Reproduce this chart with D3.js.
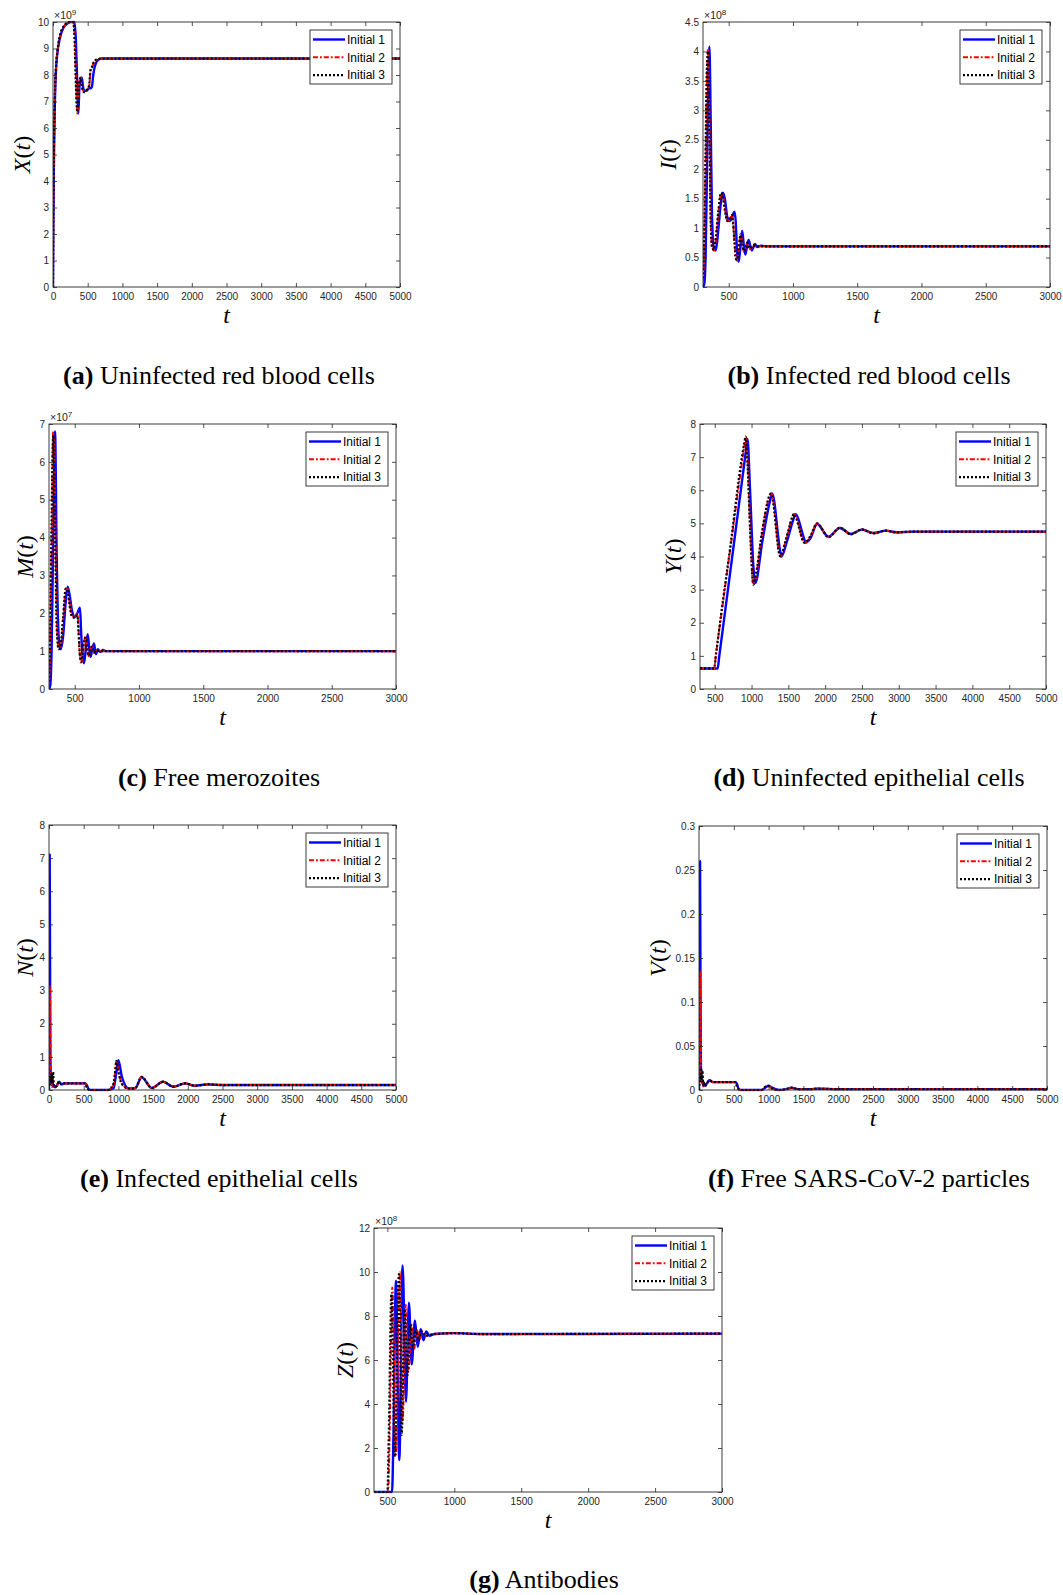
<!DOCTYPE html>
<html><head><meta charset="utf-8">
<script src="https://cdn.jsdelivr.net/npm/d3@7"></script>
<style>body{margin:0;background:#fff} svg{display:block}</style>
</head><body>
<svg id="fig" width="1063" height="1595"></svg>
<script>
// ---------------- DATA ----------------
const seriesNames = ["Initial 1", "Initial 2", "Initial 3"];

// (a) X(t) x 1e9
const tA  = [0,5,10,20,35,50,75,100,150,200,250,290,310,330,350,365,380,400,415,430,450,475,500,520,540,560,580,600,620,650,700,800,5000];
const xA1 = [0,2.2,4.0,6.0,7.7,8.45,9.05,9.4,9.78,9.93,10,10,10,9.3,7.6,6.55,7.5,7.85,7.9,7.6,7.4,7.4,7.45,7.5,7.5,7.55,8.0,8.3,8.45,8.57,8.62,8.62,8.62];
const xA2 = [0,2.5,4.2,6.2,7.8,8.5,9.1,9.45,9.8,9.95,10,10,9.6,8.0,6.55,7.2,7.75,7.9,7.65,7.45,7.35,7.4,7.5,7.55,8.1,8.25,8.4,8.5,8.57,8.6,8.62,8.62,8.62];
const xA3 = [0,2.7,4.4,6.4,7.9,8.55,9.15,9.5,9.82,9.96,10,10,9.4,7.6,6.6,7.3,7.8,7.9,7.6,7.4,7.35,7.4,7.5,7.6,8.2,8.3,8.45,8.52,8.58,8.6,8.62,8.62,8.62];

// (b) I(t) x 1e8
const tB  = [300,310,320,330,340,350,360,370,385,400,420,440,455,470,490,510,525,545,555,565,578,592,605,618,630,643,655,668,680,693,705,720,750,800,3000];
const iB1 = [0,0.05,0.5,1.8,3.4,4.08,2.8,1.2,0.65,0.62,1.0,1.45,1.6,1.5,1.18,1.12,1.18,1.28,1.1,0.6,0.43,0.7,0.95,0.7,0.55,0.7,0.8,0.7,0.62,0.68,0.73,0.68,0.70,0.69,0.69];
const iB2 = [0.1,0.7,2.0,3.5,4.05,2.9,1.2,0.7,0.62,0.8,1.25,1.58,1.55,1.35,1.12,1.15,1.23,0.8,0.5,0.45,0.62,0.9,0.75,0.6,0.63,0.76,0.7,0.64,0.68,0.72,0.7,0.69,0.69,0.69,0.69];
const iB3 = [0.15,0.9,2.3,3.7,4.0,2.6,1.1,0.68,0.63,0.85,1.3,1.6,1.52,1.3,1.12,1.16,1.22,0.75,0.48,0.46,0.65,0.88,0.73,0.61,0.64,0.75,0.69,0.65,0.68,0.71,0.7,0.69,0.69,0.69,0.69];

// (c) M(t) x 1e7
const tC  = [300,310,320,333,347,360,375,390,410,430,445,460,480,502,520,541,550,560,572,585,601,612,623,637,650,665,680,700,720,740,800,3000];
const mC1 = [0,0.1,1.0,4.0,6.8,3.5,1.4,1.05,1.4,2.3,2.7,2.5,2.05,1.9,2.0,2.15,1.5,0.9,0.68,1.0,1.45,1.1,0.85,1.05,1.2,0.92,1.05,0.98,1.03,1.0,1.0,1.0];
const mC2 = [0.1,1.2,3.5,6.8,5.0,2.0,1.1,1.1,1.8,2.6,2.65,2.3,1.95,1.9,2.0,0.9,0.7,0.8,1.2,1.4,1.0,0.85,1.05,1.15,0.95,1.02,1.0,1.0,1.0,1.0,1.0,1.0];
const mC3 = [0.2,1.8,4.5,6.7,4.2,1.6,1.05,1.15,1.9,2.65,2.6,2.2,1.9,1.88,1.95,0.85,0.72,0.85,1.25,1.35,0.95,0.88,1.07,1.12,0.96,1.02,1.0,1.0,1.0,1.0,1.0,1.0];

// (d) Y(t)
const tD  = [300,490,520,540,560,700,900,920,945,980,1025,1050,1150,1265,1280,1390,1405,1480,1580,1595,1720,1735,1800,1890,2045,2200,2350,2500,2655,2825,2970,3200,5000];
const yD1 = [0.62,0.62,0.62,0.62,0.96,3.35,6.78,7.13,7.55,6.0,3.7,3.2,4.5,5.8,5.9,4.15,4.0,4.45,5.2,5.28,4.5,4.42,4.55,4.98,4.6,4.86,4.68,4.81,4.71,4.78,4.73,4.75,4.75];
const yD2 = [0.62,0.62,1.1,1.43,1.76,4.04,7.3,7.6,7.0,5.0,3.15,3.3,4.8,5.9,5.85,4.02,4.05,4.6,5.28,5.25,4.42,4.42,4.6,5.0,4.58,4.87,4.67,4.82,4.7,4.78,4.73,4.75,4.75];
const yD3 = [0.62,0.62,1.1,1.45,1.8,4.1,7.4,7.62,6.8,4.8,3.15,3.35,4.85,5.9,5.8,4.0,4.05,4.62,5.28,5.22,4.42,4.43,4.62,5.0,4.58,4.87,4.67,4.82,4.7,4.78,4.73,4.75,4.75];

// (e) N(t)
const tE  = [0,5,10,15,20,30,40,50,60,70,85,110,145,180,220,300,520,545,570,600,850,930,975,1000,1050,1150,1240,1335,1480,1645,1790,1960,2100,2290,2500,5000];
const nE1 = [0,3.0,7.1,4.0,1.0,0.2,0.15,0.3,0.1,0.15,0.08,0.12,0.25,0.17,0.2,0.2,0.2,0.15,0.03,0,0,0.05,0.6,0.9,0.4,0.05,0.05,0.38,0.06,0.25,0.1,0.2,0.13,0.17,0.15,0.15];
const nE2 = [0,1.5,2.5,3.15,1.5,0.3,0.1,0.2,0.1,0.12,0.1,0.12,0.25,0.17,0.2,0.2,0.2,0.1,0.02,0,0,0.15,0.9,0.6,0.2,0.04,0.05,0.4,0.06,0.25,0.1,0.2,0.13,0.17,0.15,0.15];
const nE3 = [0,0.2,0.3,0.4,0.2,0.3,0.5,0.2,0.55,0.1,0.1,0.12,0.25,0.17,0.2,0.2,0.2,0.08,0.01,0,0,0.2,0.88,0.55,0.18,0.04,0.05,0.4,0.06,0.25,0.1,0.2,0.13,0.17,0.15,0.15];

// (f) V(t)
const tF  = [0,5,10,15,20,25,30,40,50,60,70,85,110,150,200,300,520,545,570,600,900,960,1000,1040,1150,1250,1330,1420,1600,1700,2000,5000];
const vF1 = [0,0.05,0.2,0.26,0.15,0.05,0.02,0.01,0.012,0.006,0.005,0.006,0.007,0.011,0.009,0.009,0.009,0.007,0.001,0,0,0.003,0.005,0.003,0,0.001,0.0025,0.001,0.001,0.0015,0.001,0.001];
const vF2 = [0,0.03,0.08,0.12,0.135,0.06,0.02,0.008,0.01,0.004,0.006,0.005,0.007,0.011,0.009,0.009,0.009,0.005,0.001,0,0,0.004,0.0045,0.002,0,0.001,0.0025,0.001,0.001,0.0015,0.001,0.001];
const vF3 = [0,0.005,0.01,0.015,0.01,0.02,0.025,0.01,0.022,0.005,0.01,0.004,0.007,0.011,0.009,0.009,0.009,0.004,0.001,0,0,0.004,0.0045,0.002,0,0.001,0.0025,0.001,0.001,0.0015,0.001,0.001];

// (g) Z(t) x 1e8
const tG1 = [400,535,545,564,589,614,639,661,682,706,726,749,770,790,815,850,1000,1200,3000];
const zG1 = [0,0,2.5,9.6,1.45,10.3,4.1,8.6,5.8,7.8,6.6,7.4,6.9,7.3,7.1,7.18,7.22,7.18,7.2];
const tG2 = [400,505,515,537,564,594,614,637,658,680,700,720,740,762,790,850,1000,1200,3000];
const zG2 = [0,0,2.0,9.3,1.7,10.0,3.2,8.5,5.5,7.6,6.5,7.4,6.9,7.3,7.1,7.18,7.22,7.18,7.2];
const tG3 = [400,500,510,530,556,586,607,628,650,672,692,712,733,755,785,850,1000,1200,3000];
const zG3 = [0,0,2.5,9.0,1.6,9.9,2.6,8.3,5.3,7.6,6.5,7.4,6.9,7.3,7.1,7.18,7.22,7.18,7.2];

// ticks
const xTicks0to5000   = [0,500,1000,1500,2000,2500,3000,3500,4000,4500,5000];
const xTicks500to3000 = [500,1000,1500,2000,2500,3000];
const xTicks500to5000 = [500,1000,1500,2000,2500,3000,3500,4000,4500,5000];
const yTicksA = [0,1,2,3,4,5,6,7,8,9,10];
const yTicksB = [0,0.5,1,1.5,2,2.5,3,3.5,4,4.5];
const yTicksC = [0,1,2,3,4,5,6,7];
const yTicks0to8 = [0,1,2,3,4,5,6,7,8];
const yTicksF = [0,0.05,0.1,0.15,0.2,0.25,0.3];
const yTicksG = [0,2,4,6,8,10,12];

const captionLetters = ["a","b","c","d","e","f","g"];
const captionTexts = ["Uninfected red blood cells","Infected red blood cells","Free merozoites",
  "Uninfected epithelial cells","Infected epithelial cells","Free SARS-CoV-2 particles","Antibodies"];

// ---------------- DRAW ----------------
const svg = d3.select("#fig");
const styles = [
  {color:"#0000ff", width:2.4, dash:null},
  {color:"#ff0000", width:2.0, dash:"5 2 1.8 2"},
  {color:"#000000", width:2.2, dash:"2 2"}
];

const panels = [
  {left:53, top:22, right:400, bottom:287, xd:[0,5000], yd:[0,10], xt:xTicks0to5000, yt:yTicksA, mult:"9", lab:"X", labOff:31,
   series:[[tA,xA1],[tA,xA2],[tA,xA3]], capX:219, capY:384},
  {left:703, top:22, right:1050, bottom:287, xd:[300,3000], yd:[0,4.5], xt:xTicks500to3000, yt:yTicksB, mult:"8", lab:"I", labOff:35,
   series:[[tB,iB1],[tB,iB2],[tB,iB3]], capX:869, capY:384},
  {left:49, top:424, right:396, bottom:689, xd:[300,3000], yd:[0,7], xt:xTicks500to3000, yt:yTicksC, mult:"7", lab:"M", labOff:24,
   series:[[tC,mC1],[tC,mC2],[tC,mC3]], capX:219, capY:786},
  {left:700, top:424, right:1046, bottom:689, xd:[300,5000], yd:[0,8], xt:xTicks500to5000, yt:yTicks0to8, mult:null, lab:"Y", labOff:27,
   series:[[tD,yD1],[tD,yD2],[tD,yD3]], capX:869, capY:786},
  {left:49, top:825, right:396, bottom:1090, xd:[0,5000], yd:[0,8], xt:xTicks0to5000, yt:yTicks0to8, mult:null, lab:"N", labOff:24,
   series:[[tE,nE1],[tE,nE2],[tE,nE3]], capX:219, capY:1187},
  {left:699, top:826, right:1047, bottom:1090, xd:[0,5000], yd:[0,0.3], xt:xTicks0to5000, yt:yTicksF, mult:null, lab:"V", labOff:41,
   series:[[tF,vF1],[tF,vF2],[tF,vF3]], capX:869, capY:1187},
  {left:374, top:1228, right:722, bottom:1492, xd:[400,3000], yd:[0,12], xt:xTicks500to3000, yt:yTicksG, mult:"8", lab:"Z", labOff:29,
   series:[[tG1,zG1],[tG2,zG2],[tG3,zG3]], capX:544, capY:1588}
];

const defs = svg.append("defs");
const fmt = d3.format("~g");
const tickFont = "'Liberation Sans', Arial, Helvetica, sans-serif";
const serif = "'Liberation Serif', 'Times New Roman', Times, serif";
const axisColor = "#262626";

panels.forEach((p, i) => {
  const x = d3.scaleLinear().domain(p.xd).range([p.left, p.right]);
  const y = d3.scaleLinear().domain(p.yd).range([p.bottom, p.top]);
  const g = svg.append("g");
  const cid = "clip" + i;
  defs.append("clipPath").attr("id", cid).append("rect")
    .attr("x", p.left).attr("y", p.top - 1.5).attr("width", p.right - p.left).attr("height", p.bottom - p.top + 3);

  g.append("rect").attr("x", p.left).attr("y", p.top).attr("width", p.right - p.left)
    .attr("height", p.bottom - p.top).attr("fill", "#fff");

  const line = d3.line().x(d => x(d[0])).y(d => y(d[1])).curve(d3.curveMonotoneX);
  const lg = g.append("g").attr("clip-path", `url(#${cid})`);
  p.series.forEach((s, k) => {
    const pts = s[0].map((t, j) => [t, s[1][j]]);
    const st = styles[k];
    lg.append("path").attr("d", line(pts)).attr("fill", "none")
      .attr("stroke", st.color).attr("stroke-width", st.width)
      .attr("stroke-dasharray", st.dash).attr("stroke-linejoin", "round");
  });

  const bottomAx = g.append("g").attr("transform", `translate(0,${p.bottom})`)
    .call(d3.axisBottom(x).tickValues(p.xt).tickSizeInner(-4).tickSizeOuter(0).tickPadding(6).tickFormat(fmt));
  const leftAx = g.append("g").attr("transform", `translate(${p.left},0)`)
    .call(d3.axisLeft(y).tickValues(p.yt).tickSizeInner(-4).tickSizeOuter(0).tickPadding(4).tickFormat(fmt));
  const topAx = g.append("g").attr("transform", `translate(0,${p.top})`)
    .call(d3.axisTop(x).tickValues(p.xt).tickSizeInner(-4).tickSizeOuter(0).tickFormat(""));
  const rightAx = g.append("g").attr("transform", `translate(${p.right},0)`)
    .call(d3.axisRight(y).tickValues(p.yt).tickSizeInner(-4).tickSizeOuter(0).tickFormat(""));
  [bottomAx, leftAx, topAx, rightAx].forEach(a => {
    a.select(".domain").remove();
    a.selectAll(".tick line").attr("stroke", axisColor).attr("stroke-width", 0.8);
    a.selectAll(".tick text").attr("fill", axisColor).style("font-family", tickFont).style("font-size", "10px");
  });

  g.append("rect").attr("x", p.left).attr("y", p.top).attr("width", p.right - p.left)
    .attr("height", p.bottom - p.top).attr("fill", "none").attr("stroke", axisColor).attr("stroke-width", 0.9);

  if (p.mult) {
    const m = g.append("text").attr("x", p.left + 1).attr("y", p.top - 3)
      .attr("fill", axisColor).style("font-family", tickFont).style("font-size", "10.5px");
    m.append("tspan").text("\u00d710");
    m.append("tspan").attr("dy", -4.5).style("font-size", "8px").text(p.mult);
  }

  const yl = g.append("text")
    .attr("transform", `translate(${p.left - p.labOff},${(p.top + p.bottom) / 2}) rotate(-90)`)
    .attr("text-anchor", "middle").attr("dy", "0.35em")
    .style("font-family", serif).style("font-size", "24px").attr("fill", "#000");
  yl.append("tspan").style("font-style", "italic").text(p.lab);
  yl.append("tspan").text("(");
  yl.append("tspan").style("font-style", "italic").text("t");
  yl.append("tspan").text(")");

  g.append("text").attr("x", (p.left + p.right) / 2).attr("y", p.bottom + 36)
    .attr("text-anchor", "middle").style("font-family", serif).style("font-style", "italic")
    .style("font-size", "24px").text("t");

  const bx = p.right - 90, by = p.top + 8;
  const leg = g.append("g");
  leg.append("rect").attr("x", bx).attr("y", by).attr("width", 82).attr("height", 54)
    .attr("fill", "#fff").attr("stroke", axisColor).attr("stroke-width", 0.9);
  seriesNames.forEach((nm, k) => {
    const yy = by + 9.5 + k * 17.8;
    const st = styles[k];
    leg.append("line").attr("x1", bx + 3).attr("x2", bx + 35).attr("y1", yy).attr("y2", yy)
      .attr("stroke", st.color).attr("stroke-width", st.width).attr("stroke-dasharray", st.dash);
    leg.append("text").attr("x", bx + 37).attr("y", yy).attr("dy", "0.36em")
      .style("font-family", tickFont).style("font-size", "12px").attr("fill", "#000").text(nm);
  });

  const cap = svg.append("text").attr("x", p.capX).attr("y", p.capY).attr("text-anchor", "middle")
    .style("font-family", serif).style("font-size", "26px").attr("fill", "#000");
  cap.append("tspan").style("font-weight", "bold").text("(" + captionLetters[i] + ")");
  cap.append("tspan").text(" " + captionTexts[i]);
});
</script>
</body></html>
